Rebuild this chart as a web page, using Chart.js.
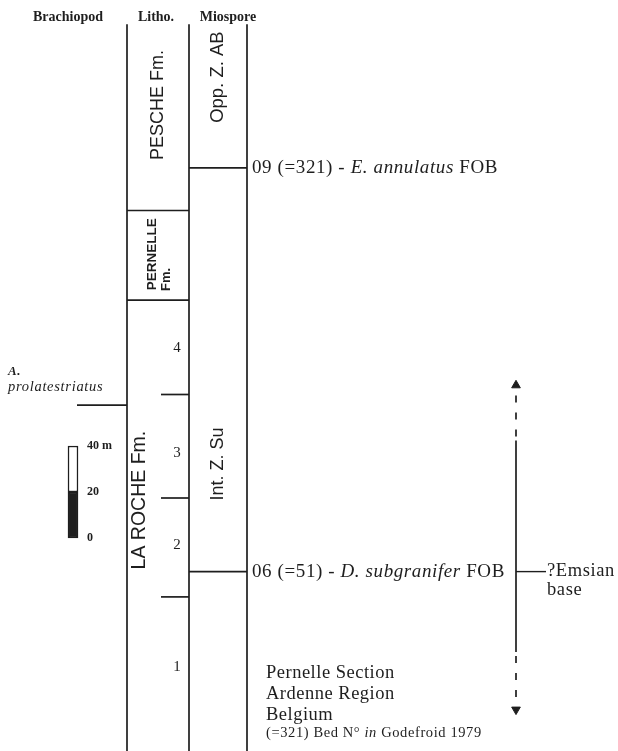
<!DOCTYPE html>
<html>
<head>
<meta charset="utf-8">
<script src="https://cdn.jsdelivr.net/npm/chart.js@4.4.1/dist/chart.umd.min.js"></script>
<style>
  body { margin: 0; background: #fff; }
  canvas { display: block; }
</style>
</head>
<body>
<canvas id="column" width="618" height="751"></canvas>
<script>
// stratigraphic heights in metres above the base of the section
const columnTop = 316
const lithoUnits = ['PESCHE Fm.', 'PERNELLE Fm.', 'LA ROCHE Fm.']
const lithoBases = [235, 196]            // Pesche / Pernelle, Pernelle / La Roche
const beds = ['1', '2', '3', '4']
const bedBases = [67, 110, 155]          // 2, 3, 4
const zones = ['Opp. Z. AB', 'Int. Z. Su']
const zoneBase = [253.5, 78]             // 09 and 06 events
const events = ['09 (=321) - ', '06 (=51) - ']
const eventTaxa = ['E. annulatus', 'D. subgranifer']
const brachiopodBase = 150.4
const scaleTicks = [0, 20, 40]
const scaleStart = 92.6
const emsianArrow = [18, 159]
const emsianSolid = [43, 135]
const emsianBase = 78

// column x positions (canvas px)
const X = { brachL: 77, lithoL: 127, bedTick: 161, lithoR: 189, mioR: 247, arrow: 516 }

const INK = '#1e1e1e'

function seg(x1, y1, x2, y2, opts) {
    return Object.assign({
        type: 'scatter', showLine: true,
        data: [{ x: x1, y: y1 }, { x: x2, y: y2 }],
        borderColor: INK, borderWidth: 1.7, pointRadius: 0, pointHoverRadius: 0, fill: false, clip: false
    }, opts || {})
}

const datasets = [
    seg(X.lithoL, 0, X.lithoL, columnTop),
    seg(X.lithoR, 0, X.lithoR, columnTop),
    seg(X.mioR, 0, X.mioR, columnTop),
    seg(X.lithoL, lithoBases[0], X.lithoR, lithoBases[0]),
    seg(X.lithoL, lithoBases[1], X.lithoR, lithoBases[1]),
    seg(X.brachL, brachiopodBase, X.lithoL, brachiopodBase),
    ...bedBases.map(h => seg(X.bedTick, h, X.lithoR, h)),
    ...zoneBase.map(h => seg(X.lithoR, h, X.mioR, h)),
    // Emsian range
    seg(X.arrow, emsianSolid[0], X.arrow, emsianSolid[1]),
    seg(X.arrow, emsianSolid[1], X.arrow, emsianArrow[1] - 2, { borderDash: [7, 10], borderDashOffset: -4 }),
    seg(X.arrow, emsianSolid[0], X.arrow, emsianArrow[0] + 2, { borderDash: [7, 10], borderDashOffset: -4 }),
    seg(X.arrow, emsianBase, X.arrow + 30, emsianBase, { borderWidth: 1.4 }),
    {
        type: 'scatter', data: [{ x: X.arrow, y: emsianArrow[1] }],
        pointStyle: 'triangle', pointRadius: 5, backgroundColor: INK, borderColor: INK, borderWidth: 1
    },
    {
        type: 'scatter', data: [{ x: X.arrow, y: emsianArrow[0] }],
        pointStyle: 'triangle', rotation: 180, pointRadius: 5, backgroundColor: INK, borderColor: INK, borderWidth: 1
    },
    // metre scale bar
    {
        type: 'bar', data: [{ x: 73, y: [scaleStart + scaleTicks[1], scaleStart + scaleTicks[2]] }],
        backgroundColor: '#fff', borderColor: INK, borderWidth: 1.5, barThickness: 10,
        borderSkipped: false, grouped: false
    },
    {
        type: 'bar', data: [{ x: 73, y: [scaleStart + scaleTicks[0], scaleStart + scaleTicks[1]] }],
        backgroundColor: INK, borderColor: INK, borderWidth: 1.5, barThickness: 10,
        borderSkipped: false, grouped: false
    }
]

const SERIF = '"Liberation Serif", "DejaVu Serif", serif'
const SANS = '"Liberation Sans", "DejaVu Sans", sans-serif'

function runs(ctx, x, y, parts) {
    parts.forEach(p => {
        ctx.font = p.font
        ctx.fillText(p.text, x, y)
        x += ctx.measureText(p.text).width
    })
}

const labelsPlugin = {
    id: 'labels',
    afterDatasetsDraw(chart) {
        const ctx = chart.ctx
        const sx = v => chart.scales.x.getPixelForValue(v)
        const sy = v => chart.scales.y.getPixelForValue(v)
        ctx.save()
        ctx.fillStyle = INK
        ctx.textBaseline = 'middle'

        // headers
        ctx.font = 'bold 14px ' + SERIF
        ctx.textAlign = 'center'
        ctx.fillText('Brachiopod', 68, 17)
        ctx.fillText('Litho.', 156, 17)
        ctx.fillText('Miospore', 228, 17)

        // rotated unit names
        const vert = (text, x, h, font) => {
            ctx.save()
            ctx.translate(sx(x), sy(h))
            ctx.rotate(-Math.PI / 2)
            ctx.font = font
            ctx.textAlign = 'center'
            ctx.fillText(text, 0, 0)
            ctx.restore()
        }
        vert(lithoUnits[0], 158, 280.9, '18px ' + SANS)
        vert('PERNELLE', 152, 216, 'bold 13.5px ' + SANS)
        vert('Fm.', 166, 205, 'bold 13px ' + SANS)
        vert(lithoUnits[2], 140, 109.1, '19.5px ' + SANS)
        vert(zones[0], 218, 293, '18.5px ' + SANS)
        vert(zones[1], 218, 124.8, '18px ' + SANS)

        // bed numbers
        ctx.font = '15px ' + SERIF
        ctx.textAlign = 'center'
        const bedY = [36.5, 89.6, 129.6, 175.2]
        beds.forEach((b, i) => ctx.fillText(b, sx(177), sy(bedY[i])))

        // events
        ctx.textAlign = 'left'
        ctx.letterSpacing = '0.6px'
        events.forEach((e, i) => {
            runs(ctx, sx(X.mioR + 5), sy(zoneBase[i]), [
                { text: e, font: '19px ' + SERIF },
                { text: eventTaxa[i], font: 'italic 19px ' + SERIF },
                { text: ' FOB', font: '19px ' + SERIF }
            ])
        })
        ctx.font = '18.5px ' + SERIF
        ctx.fillText('?Emsian', sx(X.arrow + 31), sy(emsianBase))
        ctx.fillText('base', sx(X.arrow + 31), sy(emsianBase - 8))

        // brachiopod taxon
        ctx.letterSpacing = '0.7px'
        ctx.font = 'italic bold 13px ' + SERIF
        ctx.fillText('A.', 8, sy(164.8))
        ctx.font = 'italic 14.5px ' + SERIF
        ctx.fillText('prolatestriatus', 8, sy(158.3))

        // scale labels
        ctx.letterSpacing = '0px'
        ctx.font = 'bold 12px ' + SERIF
        ctx.fillText('40 m', 87, sy(scaleStart + scaleTicks[2]))
        ctx.fillText('20', 87, sy(scaleStart + scaleTicks[1]))
        ctx.fillText('0', 87, sy(scaleStart + scaleTicks[0]))

        // locality
        ctx.letterSpacing = '0.5px'
        ctx.font = '18.5px ' + SERIF
        ctx.fillText('Pernelle Section', 266, 673)
        ctx.fillText('Ardenne Region', 266, 694)
        ctx.fillText('Belgium', 266, 715)
        ctx.letterSpacing = '0.6px'
        runs(ctx, 266, 733, [
            { text: '(=321) Bed N° ', font: '14.5px ' + SERIF },
            { text: 'in', font: 'italic 14.5px ' + SERIF },
            { text: ' Godefroid 1979', font: '14.5px ' + SERIF }
        ])
        ctx.restore()
    }
}

new Chart(document.getElementById('column'), {
    type: 'scatter',
    data: { datasets },
    options: {
        responsive: false,
        animation: false,
        layout: { padding: 0, autoPadding: false },
        plugins: { legend: { display: false }, tooltip: { enabled: false } },
        scales: {
            x: { type: 'linear', min: 0, max: 618, display: false, offset: false },
            y: { type: 'linear', min: 0, max: 751 / 2.3, display: false }
        }
    },
    plugins: [labelsPlugin]
})
</script>
</body>
</html>
